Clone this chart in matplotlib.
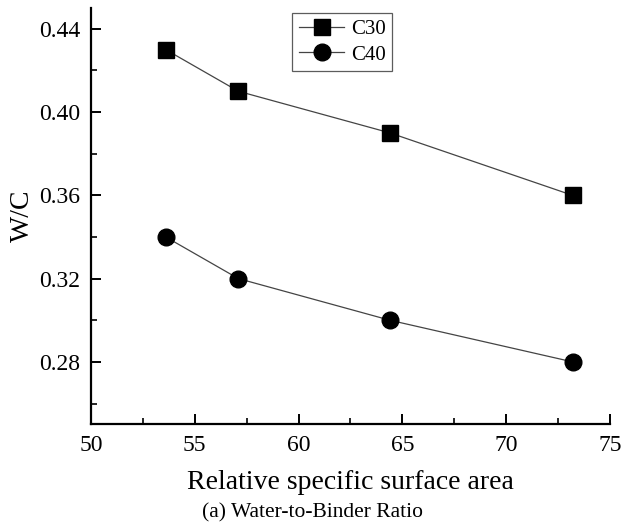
import matplotlib
matplotlib.use("Agg")
import matplotlib.pyplot as plt
from matplotlib.ticker import MultipleLocator

# datos
surface_area = [53.6, 57.1, 64.4, 73.2]
wc_c30 = [0.43, 0.41, 0.39, 0.36]
wc_c40 = [0.34, 0.32, 0.30, 0.28]
series_labels = ["C30", "C40"]

plt.rcParams["font.family"] = ["Liberation Serif", "DejaVu Serif"]

fig = plt.figure(figsize=(6.22, 5.26), dpi=100)
ax = fig.add_axes([0.1463, 0.1933, 0.8344, 0.7915])

ax.plot(surface_area, wc_c30, color="#444444", linewidth=0.9, marker="s",
        markersize=11, markerfacecolor="black", markeredgecolor="black",
        label=series_labels[0])
ax.plot(surface_area, wc_c40, color="#444444", linewidth=0.9, marker="o",
        markersize=12, markerfacecolor="black", markeredgecolor="black",
        label=series_labels[1])

ax.set_xlim(50, 75)
ax.set_ylim(0.25, 0.45)
ax.xaxis.set_major_locator(MultipleLocator(5))
ax.xaxis.set_minor_locator(MultipleLocator(2.5))
ax.yaxis.set_minor_locator(MultipleLocator(0.02))
ax.set_yticks([0.28, 0.32, 0.36, 0.40, 0.44])
ax.set_yticklabels(["0.28", "0.32", "0.36", "0.40", "0.44"])

for s in ["top", "right"]:
    ax.spines[s].set_visible(False)
for s in ["left", "bottom"]:
    ax.spines[s].set_linewidth(1.6)

ax.tick_params(which="major", direction="in", length=7, width=1.4,
               labelsize=17, pad=8)
ax.tick_params(which="minor", direction="in", length=4, width=1.2)

ax.set_xlabel("Relative specific surface area", fontsize=20, labelpad=10)
ax.set_ylabel("W/C", fontsize=20, labelpad=3)

leg = ax.legend(loc="upper left", bbox_to_anchor=(0.388, 0.988), fontsize=15,
                frameon=True, fancybox=False, handlelength=2.2,
                borderpad=0.3, labelspacing=0.3, handletextpad=0.3,
                borderaxespad=0)
leg.get_frame().set_edgecolor("#333333")
leg.get_frame().set_linewidth(0.9)

fig.text(0.503, 0.025, "(a) Water-to-Binder Ratio", ha="center", va="center",
         fontsize=15.5)

fig.savefig("out.png", dpi=100)
